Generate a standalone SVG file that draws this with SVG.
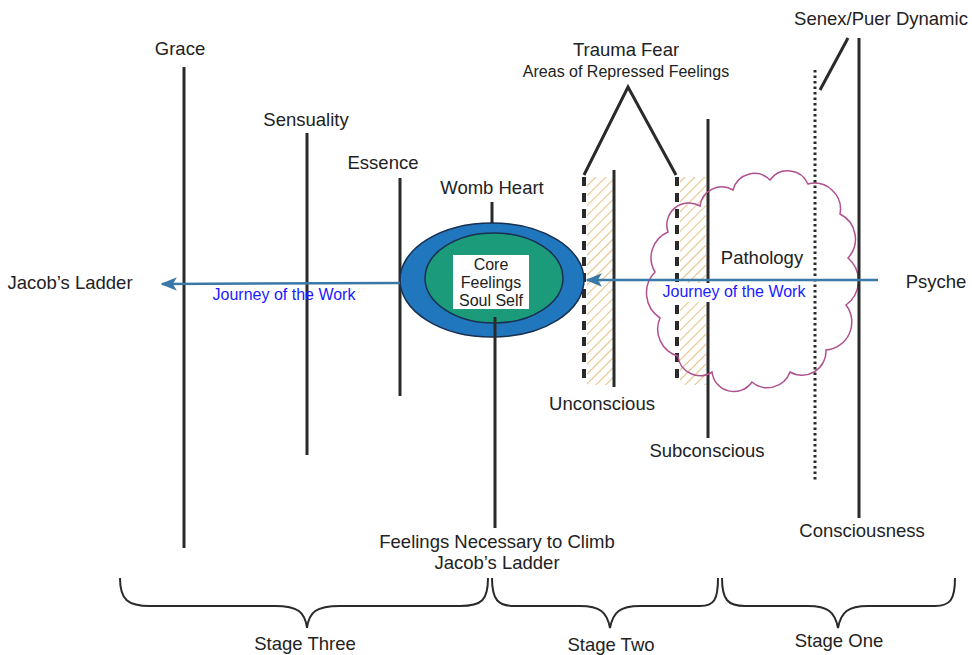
<svg xmlns="http://www.w3.org/2000/svg" width="972" height="655" viewBox="0 0 972 655">
<defs>
<style>
.t{font-family:"Liberation Sans",Arial,sans-serif;font-size:18.5px;fill:#222;text-anchor:middle}
.s{font-size:16px}
.j{font-family:"Liberation Sans",Arial,sans-serif;font-size:16px;fill:#1a1aff;text-anchor:middle}
.ln{stroke:#2a2a2a;stroke-width:3;fill:none}
.dash{stroke:#2a2a2a;stroke-width:4;stroke-dasharray:9 7;fill:none}
.dot{stroke:#2a2a2a;stroke-width:3;stroke-dasharray:2.5 3;fill:none}
.arr{stroke:#3a78a8;stroke-width:2.5;fill:none}
.brace{stroke:#2a2a2a;stroke-width:2;fill:none}
</style>
<pattern id="hatch" width="7" height="7" patternUnits="userSpaceOnUse" patternTransform="rotate(45)">
<line x1="0" y1="0" x2="0" y2="7" stroke="#e6c48a" stroke-width="2.2"/>
</pattern>
<marker id="ah" viewBox="0 0 12 10" refX="11" refY="5" markerWidth="6.5" markerHeight="5.5" orient="auto" markerUnits="strokeWidth">
<path d="M0,0 L12,5 L0,10 L3,5 Z" fill="#3a78a8"/>
</marker>
</defs>
<rect width="972" height="655" fill="#fff"/>

<g id="hatches">
<rect x="587" y="177" width="26" height="208" fill="url(#hatch)"/>
<rect x="680" y="177" width="26" height="208" fill="url(#hatch)"/>
</g>

<g id="grace"><line class="ln" x1="184" y1="67" x2="184" y2="548"/><text class="t" x="180" y="55">Grace</text></g>
<g id="sensuality"><line class="ln" x1="307" y1="133" x2="307" y2="455"/><text class="t" x="306" y="126">Sensuality</text></g>
<g id="essence"><line class="ln" x1="400" y1="178" x2="400" y2="396"/><text class="t" x="383" y="169">Essence</text></g>
<g id="unconscious"><line class="ln" x1="614" y1="170" x2="614" y2="387"/><line class="dash" x1="584" y1="177" x2="584" y2="385"/><line class="dash" x1="677" y1="177" x2="677" y2="385"/><text class="t" x="602" y="410">Unconscious</text></g>
<g id="subconscious"><line class="ln" x1="708" y1="119" x2="708" y2="438"/><text class="t" x="707" y="457">Subconscious</text></g>
<g id="pathology">
<path d="M 668 232 A 22 22 0 0 1 700 206 A 22 22 0 0 1 733 190 A 22 22 0 0 1 770 180 A 22 22 0 0 1 808 184 A 26 26 0 0 1 840 214 A 28 28 0 0 1 848 258 A 30 30 0 0 1 846 305 A 28 28 0 0 1 826 350 A 24 24 0 0 1 790 372 A 24 24 0 0 1 752 382 A 22 22 0 0 1 712 372 A 22 22 0 0 1 678 356 A 28 28 0 0 1 660 318 A 30 30 0 0 1 655 272 A 28 28 0 0 1 668 232 Z" fill="none" stroke="#b0508f" stroke-width="1.5"/>
<text class="t" x="762" y="264">Pathology</text>
</g>
<g id="senex"><line class="dot" x1="815" y1="70" x2="815" y2="482"/><line class="ln" x1="820" y1="90" x2="848" y2="38"/><text class="t" x="881" y="25">Senex/Puer Dynamic</text></g>
<g id="consciousness"><line class="ln" x1="859" y1="38" x2="859" y2="518"/><text class="t" x="862" y="537">Consciousness</text></g>
<g id="trauma"><path class="ln" d="M 584 175 L 628 87 L 676 175"/><text class="t" x="626" y="56">Trauma Fear</text><text class="t s" x="626" y="77">Areas of Repressed Feelings</text></g>

<g id="womb">
<line class="ln" x1="492" y1="202" x2="492" y2="230"/>
<ellipse cx="492" cy="280" rx="92" ry="57" fill="#2077bd" stroke="#1a3050" stroke-width="1.5"/>
<ellipse cx="494" cy="278" rx="69" ry="45" fill="#1b9b7a" stroke="#1a3050" stroke-width="1.5"/>
<rect x="453" y="255" width="76" height="54" fill="#fff"/>
<text class="t s" x="491" y="270">Core</text>
<text class="t s" x="491" y="288">Feelings</text>
<text class="t s" x="491" y="306">Soul Self</text>
<line class="ln" x1="495" y1="317" x2="495" y2="528"/>
<text class="t" x="492" y="194">Womb Heart</text>
<text class="t" x="497" y="548">Feelings Necessary to Climb</text>
<text class="t" x="497" y="569">Jacob’s Ladder</text>
</g>

<g id="connectors">
<line class="arr" x1="400" y1="283" x2="162" y2="284" marker-end="url(#ah)"/>
<line class="arr" x1="878" y1="280" x2="587" y2="280" marker-end="url(#ah)"/>
</g>

<g id="labels">
<text class="t" x="70" y="289">Jacob’s Ladder</text>
<text class="t" x="936" y="288">Psyche</text>
<text class="j" x="284" y="300">Journey of the Work</text>
<rect x="658" y="283" width="150" height="19" fill="#fff"/>
<text class="j" x="734" y="297">Journey of the Work</text>
</g>

<g id="stages">
<path class="brace" d="M 120 578 C 120 600 128 606 150 606 L 275 606 C 298 606 305 612 307 628 C 309 612 316 606 340 606 L 460 606 C 482 606 488 600 488 578"/>
<path class="brace" d="M 492 578 C 492 600 498 606 515 606 L 580 606 C 600 606 607 612 610 628 C 613 612 620 606 640 606 L 700 606 C 714 606 718 600 718 578"/>
<path class="brace" d="M 722 578 C 722 600 728 606 745 606 L 808 606 C 828 606 835 612 838 628 C 841 612 848 606 868 606 L 935 606 C 950 606 955 600 955 578"/>
<text class="t" x="305" y="650">Stage Three</text>
<text class="t" x="611" y="651">Stage Two</text>
<text class="t" x="839" y="647">Stage One</text>
</g>
</svg>
